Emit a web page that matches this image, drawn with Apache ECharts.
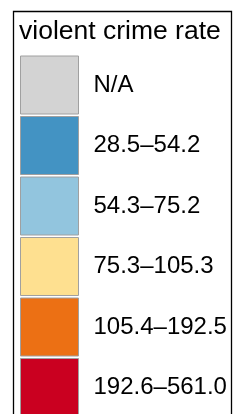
<!DOCTYPE html>
<html>
<head>
<meta charset="utf-8">
<script src="https://cdn.jsdelivr.net/npm/echarts@6/dist/echarts.min.js"></script>
<style>
  html, body { margin: 0; padding: 0; background: #fff; }
  #chart { width: 241px; height: 414px; }
</style>
</head>
<body>
<div id="chart"></div>
<script>
// legend classes (violent crime rate breaks)
const legendTitle = "violent crime rate";
const classes = ["N/A", "28.5\u201354.2", "54.3\u201375.2", "75.3\u2013105.3", "105.4\u2013192.5", "192.6\u2013561.0"];
const classColors = ["#D3D3D3", "#4393C3", "#92C5DE", "#FEE090", "#EC7014", "#CA0020"];

let chartDom = document.getElementById("chart");
let myChart = echarts.init(chartDom, null, { renderer: "canvas" });
let option;

const font = "Liberation Sans, Arial, sans-serif";

option = {
  animation: false,
  backgroundColor: "#fff",
  title: {
    text: legendTitle,
    left: 19,
    top: 18,
    padding: 0,
    textStyle: {
      fontFamily: font,
      fontSize: 26.5,
      fontWeight: "normal",
      color: "#000",
    },
  },
  graphic: [
    {
      type: "rect",
      shape: { x: 13.5, y: 11.5, width: 218, height: 420 },
      style: { fill: "none", stroke: "#000", lineWidth: 1.3 },
      silent: true,
    },
  ],
  legend: {
    type: "plain",
    orient: "vertical",
    left: 20,
    top: 55.5,
    height: 600,
    padding: 0,
    itemWidth: 58,
    itemHeight: 58,
    itemGap: 1.5,
    icon: "rect",
    selectedMode: false,
    itemStyle: {
      borderColor: "#A0A0A0",
      borderWidth: 1,
    },
    textStyle: {
      fontFamily: font,
      fontSize: 24,
      color: "#000",
      padding: [0, 0, 0, 10],
    },
    data: classes,
  },
  series: [
    {
      type: "pie",
      radius: [0, 0],
      center: [-100, -100],
      silent: true,
      stillShowZeroSum: false,
      label: { show: false },
      labelLine: { show: false },
      data: classes.map((name, i) => ({
        name: name,
        value: 1,
        itemStyle: { color: classColors[i] },
      })),
    },
  ],
};

option && myChart.setOption(option);
</script>
</body>
</html>
